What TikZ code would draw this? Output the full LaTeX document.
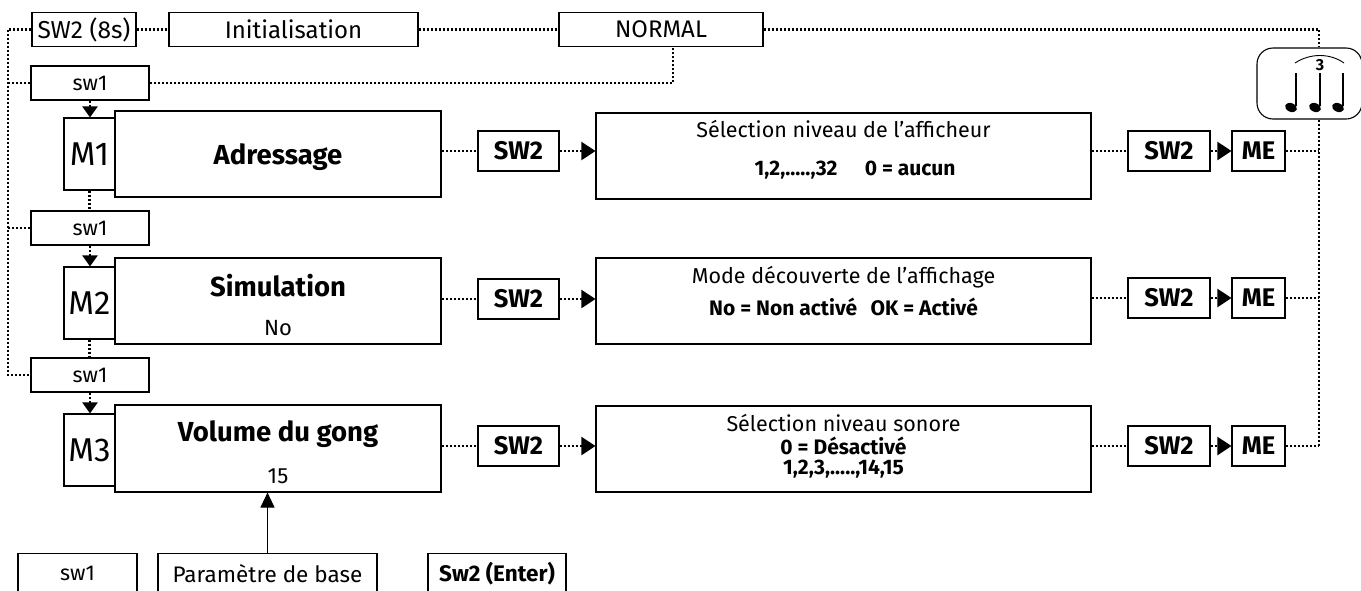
\documentclass[tikz,border=0pt]{standalone}
\usepackage{fontspec}
\setmainfont{Fira Sans}
\usetikzlibrary{arrows.meta,calc}
\newcommand\szTop{\fontsize{24}{28}\selectfont}
\newcommand\szTopS{\fontsize{24.5}{28}\selectfont}
\newcommand\szSw{\fontsize{21.5}{25}\selectfont}
\newcommand\szPar{\fontsize{22.5}{26}\selectfont}
\newcommand\szM{\fontsize{33}{38}\selectfont}
\newcommand\szTitle{\fontsize{27.5}{32}\selectfont\bfseries}
\newcommand\szVal{\fontsize{22}{26}\selectfont}
\newcommand\szKey{\fontsize{25.5}{30}\selectfont\bfseries}
\newcommand\szDesc{\fontsize{21.5}{25}\selectfont}
\newcommand\szDescB{\fontsize{21}{25}\selectfont\bfseries}
\newcommand\szEnter{\fontsize{22.5}{26}\selectfont\bfseries}
\begin{document}
\begin{tikzpicture}[x=1pt,y=-1pt,
  bx/.style n args={2}{draw,line width=1.1pt,inner sep=0pt,minimum width=#1,minimum height=#2},
  dots/.style={line width=2.1pt,dash pattern=on 2.1pt off 1.9pt},
  tipH/.style={-{Triangle[length=14pt,width=18pt]}},
  tipV/.style={-{Triangle[length=11pt,width=15pt]}},
  lbl/.style={inner sep=0pt}]
\useasboundingbox (0,0) rectangle (1361,590);
\clip (0,0) rectangle (1361,590);

% top row
\node[bx={104pt}{34pt},font=\szTopS] (sws) at (84,29.5) {SW2 (8s)};
\node[bx={249pt}{34pt},font=\szTop] (init) at (293.5,29.5) {Initialisation};
\node[bx={204pt}{34pt},font=\szTop] (normal) at (661,29.5) {NORMAL};

% left column
\node[bx={118pt}{34pt},font=\szSw] (swA) at (90,83) {sw1};
\node[bx={51pt}{72pt},font=\szM] (m1) at (89.5,154) {M1};
\node[bx={326pt}{86pt}] (adr) at (278,154) {};
\node[lbl,font=\szTitle] (adrT) at (278,157) {Adressage};

\node[bx={118pt}{34pt},font=\szSw] (swB) at (90,228) {sw1};
\node[bx={51pt}{72pt},font=\szM] (m2) at (89.5,303) {M2};
\node[bx={326pt}{86pt}] (sim) at (278,301) {};
\node[lbl,font=\szTitle] (simT) at (278,286) {Simulation};
\node[lbl,font=\szVal] (simV) at (278,328) {No};

\node[bx={118pt}{34pt},font=\szSw] (swC) at (90,375) {sw1};
\node[bx={51pt}{72pt},font=\szM] (m3) at (89.5,450) {M3};
\node[bx={326pt}{87pt}] (vol) at (278,448.5) {};
\node[lbl,font=\szTitle] (volT) at (278,434) {Volume du gong};
\node[lbl,font=\szVal] (volV) at (278,476) {15};

% middle SW2
\node[bx={81pt}{40pt},font=\szKey] (sA) at (518.5,151) {SW2};
\node[bx={81pt}{40pt},font=\szKey] (sB) at (518.5,299) {SW2};
\node[bx={81pt}{40pt},font=\szKey] (sC) at (518.5,446) {SW2};

% descriptions
\node[bx={495pt}{86pt}] (dA) at (843.5,156) {};
\node[lbl,font=\szDesc] (dA1) at (843.5,129) {Sélection niveau de l’afficheur};
\node[lbl,font=\szDescB] (dA2) at (855,170) {1,2,.....,32\hspace{1.3em}0 = aucun};
\node[bx={495pt}{86pt}] (dB) at (843.5,301) {};
\node[lbl,font=\szDesc] (dB1) at (843.5,277) {Mode découverte de l’affichage};
\node[lbl,font=\szDescB] (dB2) at (843.5,307) {No = Non activé\hspace{0.4em} OK = Activé};
\node[bx={495pt}{86pt}] (dC) at (843.5,449) {};
\node[lbl,font=\szDesc] (dC1) at (843.5,423) {Sélection niveau sonore};
\node[lbl,font=\szDescB] (dC2) at (843.5,446) {0 = Désactivé};
\node[lbl,font=\szDescB] (dC3) at (843.5,469) {1,2,3,.....,14,15};

% right SW2 / ME
\node[bx={82pt}{40pt},font=\szKey] (rA) at (1169,151) {SW2};
\node[bx={82pt}{40pt},font=\szKey] (rB) at (1169,298) {SW2};
\node[bx={82pt}{40pt},font=\szKey] (rC) at (1169,446) {SW2};
\node[bx={53pt}{40pt},font=\szKey] (eA) at (1258.5,151) {ME};
\node[bx={53pt}{40pt},font=\szKey] (eB) at (1258.5,298) {ME};
\node[bx={53pt}{40pt},font=\szKey] (eC) at (1258.5,446) {ME};

% note box
\node[draw,line width=1.1pt,rounded corners=16pt,minimum width=105pt,minimum height=71pt,inner sep=0pt] (note) at (1309.5,83.5) {};
\foreach \hx in {1291,1315,1338}{
  \fill[rotate around={-22:(\hx,107.5)}] (\hx,107.5) ellipse (6.2 and 4.3);
  \draw[line width=1.7pt] (\hx+5,106) -- (\hx+5,73);
}
\draw[line width=0.9pt] (1295,63) .. controls (1310,53) and (1330,53) .. (1344,63);
\node[lbl,font=\fontsize{16}{18}\selectfont\bfseries] (three) at (1320,65) {3};

% bottom legend boxes
\node[bx={119pt}{40pt},anchor=north,font=\szSw] (bsw) at (77.5,553) {sw1};
\node[bx={219pt}{40pt},anchor=north,font=\szPar] (bpar) at (267.5,553) {Paramètre de base};
\node[bx={138pt}{40pt},anchor=north,font=\szEnter] (bent) at (497,553) {Sw2 (Enter)};

% coordinates
\coordinate (lrTop) at (8,29.5);
\coordinate (nsb) at (673,46.5);
\coordinate (rail) at (1319,0);

% connectors: top
\draw[dots] (sws.west) -- (lrTop) |- (swC.west);
\draw[dots] (swA.west) -- (swA.west -| lrTop);
\draw[dots] (swB.west) -- (swB.west -| lrTop);
\draw[dots] (sws.east) -- (init.west);
\draw[dots] (init.east) -- (normal.west);
\draw[dots] (normal.east) -| (rail |- note.north);
\draw[dots] (swA.east) -| (nsb);

% left column verticals
\draw[dots,tipV] (swA.south) -- (swA.south |- m1.north);
\draw[dots] (m1.south) -- (m1.south |- swB.north);
\draw[dots,tipV] (swB.south) -- (swB.south |- m2.north);
\draw[dots] (m2.south) -- (m2.south |- swC.north);
\draw[dots,tipV] (swC.south) -- (swC.south |- m3.north);

% rows
\foreach \b/\s/\d/\r/\e in {adr/sA/dA/rA/eA, sim/sB/dB/rB/eB, vol/sC/dC/rC/eC}{
  \draw[dots] (\b.east |- \s.west) -- (\s.west);
  \draw[dots,tipH] (\s.east) -- (\s.east -| \d.west);
  \draw[dots] (\d.east |- \r.west) -- (\r.west);
  \draw[dots,tipH] (\r.east) -- (\e.west);
  \draw[dots] (\e.east) -- (\e.east -| rail);
}
\draw[dots] (rail |- note.south) -- (rail |- eC.east);

% parameter arrow
\draw[line width=1.1pt,-{Triangle[length=15pt,width=14pt]}] (bpar.north) -- (bpar.north |- vol.south);
\end{tikzpicture}
\end{document}
